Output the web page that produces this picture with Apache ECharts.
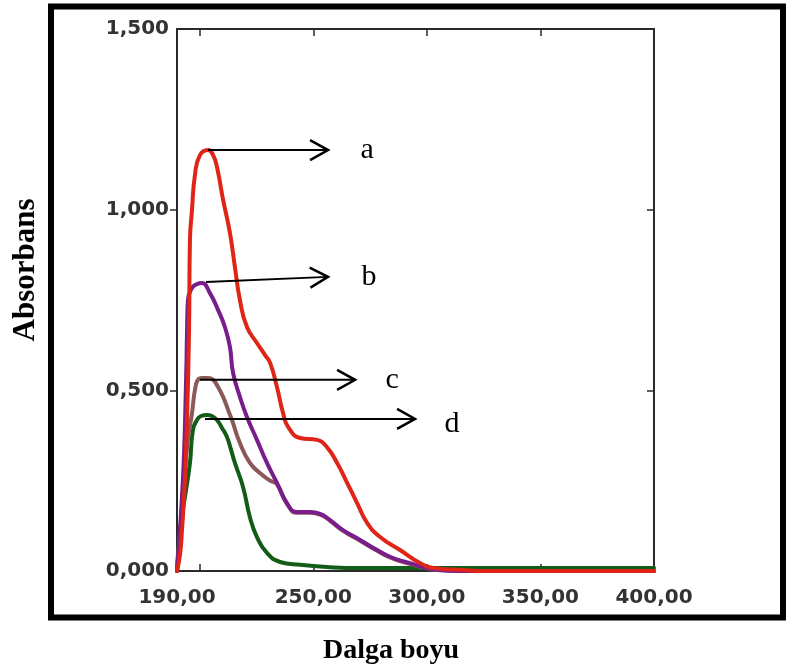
<!DOCTYPE html>
<html>
<head>
<meta charset="utf-8">
<script src="https://cdn.jsdelivr.net/npm/echarts@6/dist/echarts.min.js"></script>
<style>
html,body{margin:0;padding:0;background:#fff;}
#chart{width:787px;height:670px;}
</style>
</head>
<body>
<div id="chart"></div>
<script>
// X axis (wavelength) and tick labels
const xMin = 190, xMax = 400;
const xLabelValues = [190, 250, 300, 350, 400];
const xTickValues = [200, 250, 300, 350];
const yMin = 0, yMax = 1.5, yStep = 0.5;
const yTickValues = [0.5, 1.0];

// Series a (red)
const wlA  = [190.0,191.3,192.2,193.5,194.4,195.3,195.7,196.6,197.9,200.1,203.7,205.9,207.6,210.3,213.3,215.5,217.7,220.8,225.2,228.7,231.0,234.0,236.7,238.9,244.2,251.6,256.0,260.5,264.9,269.3,273.7,279.4,288.2,297.0,303.6,315.9,323.4,400.0];
const absA = [0.000,0.044,0.113,0.252,0.418,0.667,0.916,0.999,1.096,1.151,1.165,1.151,1.118,1.027,0.936,0.841,0.750,0.675,0.631,0.598,0.576,0.509,0.437,0.399,0.368,0.363,0.343,0.299,0.244,0.188,0.133,0.094,0.058,0.022,0.008,0.003,0.000,0.000];

// Series b (purple)
const wlB  = [190.0,192.6,194.0,194.4,194.8,196.6,198.8,201.0,204.5,208.1,211.1,213.3,214.7,217.7,220.8,225.2,229.6,234.0,238.4,242.8,248.6,253.0,257.4,263.1,270.6,278.1,285.1,292.6,298.3,305.8,314.6,400.0];
const absB = [0.000,0.252,0.529,0.659,0.750,0.783,0.794,0.797,0.769,0.722,0.675,0.620,0.548,0.482,0.426,0.363,0.299,0.244,0.188,0.163,0.163,0.158,0.141,0.113,0.086,0.058,0.036,0.022,0.011,0.003,0.000,0.000];

// Series c (brown)
const wlC  = [190.0,193.1,194.8,196.6,197.9,199.2,201.0,203.7,205.9,208.1,210.3,212.5,214.2,217.7,222.1,226.5,231.0,234.0,238.4,242.8,248.6,253.0,257.4,263.1,270.6,278.1,285.1,292.6,298.3,305.8,314.6,400.0];
const absC = [0.000,0.252,0.363,0.437,0.501,0.529,0.534,0.534,0.529,0.509,0.482,0.446,0.418,0.354,0.299,0.271,0.250,0.240,0.186,0.161,0.161,0.156,0.139,0.111,0.084,0.056,0.034,0.020,0.010,0.002,0.000,0.000];

// Series d (green)
const wlD  = [190.0,191.3,193.5,195.7,197.0,198.8,200.6,203.2,205.4,207.6,209.8,212.0,213.8,215.5,219.1,222.1,225.2,229.6,235.4,244.2,256.0,270.6,400.0];
const absD = [0.000,0.113,0.205,0.299,0.390,0.418,0.429,0.432,0.429,0.418,0.396,0.371,0.335,0.299,0.232,0.149,0.094,0.050,0.025,0.017,0.011,0.008,0.008];

// Annotation arrows
const arrowNames = ['a', 'b', 'c', 'd'];
const arrowStart = [[203.7, 1.165], [202.8, 0.800], [200.1, 0.529], [202.3, 0.421]];
const arrowEnd   = [[256.5, 1.165], [256.5, 0.814], [268.4, 0.529], [294.8, 0.421]];
const labelPos   = [[273.7, 1.165], [274.5, 0.814], [284.7, 0.529], [311.1, 0.407]];

const zip = (xs, ys) => xs.map((x, i) => [x, ys[i]]);
const fmtX = v => v.toFixed(2).replace('.', ',');
const fmtY = v => v.toFixed(3).replace('.', ',');

const axisColor = '#2a2a2a';
const labelFont = { fontFamily: 'DejaVu Sans', fontWeight: 'bold', fontSize: 20, color: '#333' };

const chart = echarts.init(document.getElementById('chart'), null, { renderer: 'canvas' });

const lineSeries = (name, data, color) => ({
  name, type: 'line', data, xAxisIndex: 0, yAxisIndex: 0,
  showSymbol: false, smooth: 0.5,
  lineStyle: { color, width: 4, join: 'round', cap: 'round' }, itemStyle: { color }, z: 3
});

chart.setOption({
  animation: false,
  backgroundColor: '#fff',
  grid: { left: 177, right: 133, top: 29, bottom: 99, containLabel: false },
  xAxis: [
    {
      type: 'value', min: xMin, max: xMax, position: 'bottom',
      axisLine: { show: true, onZero: false, lineStyle: { color: axisColor, width: 2 } },
      axisTick: { show: true, inside: true, length: 7, customValues: xTickValues, lineStyle: { color: axisColor, width: 1.5 } },
      axisLabel: Object.assign({ show: true, margin: 17, customValues: xLabelValues, formatter: fmtX }, labelFont),
      splitLine: { show: false }
    },
    {
      type: 'value', min: xMin, max: xMax, position: 'top',
      axisLine: { show: true, onZero: false, lineStyle: { color: axisColor, width: 2 } },
      axisTick: { show: true, inside: true, length: 7, customValues: xTickValues, lineStyle: { color: axisColor, width: 1.5 } },
      axisLabel: { show: false },
      splitLine: { show: false }
    }
  ],
  yAxis: [
    {
      type: 'value', min: yMin, max: yMax, interval: yStep, position: 'left',
      axisLine: { show: true, onZero: false, lineStyle: { color: axisColor, width: 2 } },
      axisTick: { show: true, inside: false, length: 7, customValues: yTickValues, lineStyle: { color: axisColor, width: 1.5 } },
      axisLabel: Object.assign({ show: true, margin: 8, formatter: fmtY }, labelFont),
      splitLine: { show: false }
    },
    {
      type: 'value', min: yMin, max: yMax, interval: yStep, position: 'right',
      axisLine: { show: true, onZero: false, lineStyle: { color: axisColor, width: 2 } },
      axisTick: { show: true, inside: true, length: 7, customValues: yTickValues, lineStyle: { color: axisColor, width: 1.5 } },
      axisLabel: { show: false },
      splitLine: { show: false }
    }
  ],
  series: [
    lineSeries('d', zip(wlD, absD), '#135c17'),
    lineSeries('c', zip(wlC, absC), '#8a5a58'),
    lineSeries('b', zip(wlB, absB), '#7a1d8c'),
    lineSeries('a', zip(wlA, absA), '#e02418')
  ]
});

// Annotation graphics from data coordinates
const toPx = p => chart.convertToPixel({ xAxisIndex: 0, yAxisIndex: 0 }, p);
const graphics = [];
graphics.push({
  type: 'rect', shape: { x: 51, y: 6.5, width: 732, height: 611 },
  style: { fill: 'none', stroke: '#000', lineWidth: 6 }, z: 10, silent: true
});
graphics.push({
  type: 'text', x: 26, y: 270, rotation: Math.PI / 2,
  style: { text: 'Absorbans', font: 'bold 31px "Liberation Serif", "Times New Roman", serif', fill: '#000', textAlign: 'center', textVerticalAlign: 'middle' },
  z: 10
});
graphics.push({
  type: 'text', x: 391, y: 651,
  style: { text: 'Dalga boyu', font: 'bold 28px "Liberation Serif", "Times New Roman", serif', fill: '#000', textAlign: 'center', textVerticalAlign: 'middle' },
  z: 10
});
arrowNames.forEach((name, i) => {
  const s = toPx(arrowStart[i]);
  const e = toPx(arrowEnd[i]);
  const l = toPx(labelPos[i]);
  const dx = e[0] - s[0], dy = e[1] - s[1];
  const len = Math.hypot(dx, dy);
  const ux = dx / len, uy = dy / len;
  const px = -uy, py = ux;
  const headL = 18, headW = 10;
  graphics.push({
    type: 'polyline', shape: { points: [s, e] },
    style: { stroke: '#000', lineWidth: 2, fill: 'none' }, z: 12
  });
  graphics.push({
    type: 'polyline',
    shape: { points: [
      [e[0] - ux * headL + px * headW, e[1] - uy * headL + py * headW],
      e,
      [e[0] - ux * headL - px * headW, e[1] - uy * headL - py * headW]
    ] },
    style: { stroke: '#000', lineWidth: 2.5, fill: 'none', lineJoin: 'miter' }, z: 12
  });
  graphics.push({
    type: 'text', x: l[0], y: l[1],
    style: { text: name, font: '30px "Liberation Serif", "Times New Roman", serif', fill: '#000', textAlign: 'center', textVerticalAlign: 'middle' },
    z: 12
  });
});
chart.setOption({ graphic: graphics });
</script>
</body>
</html>
